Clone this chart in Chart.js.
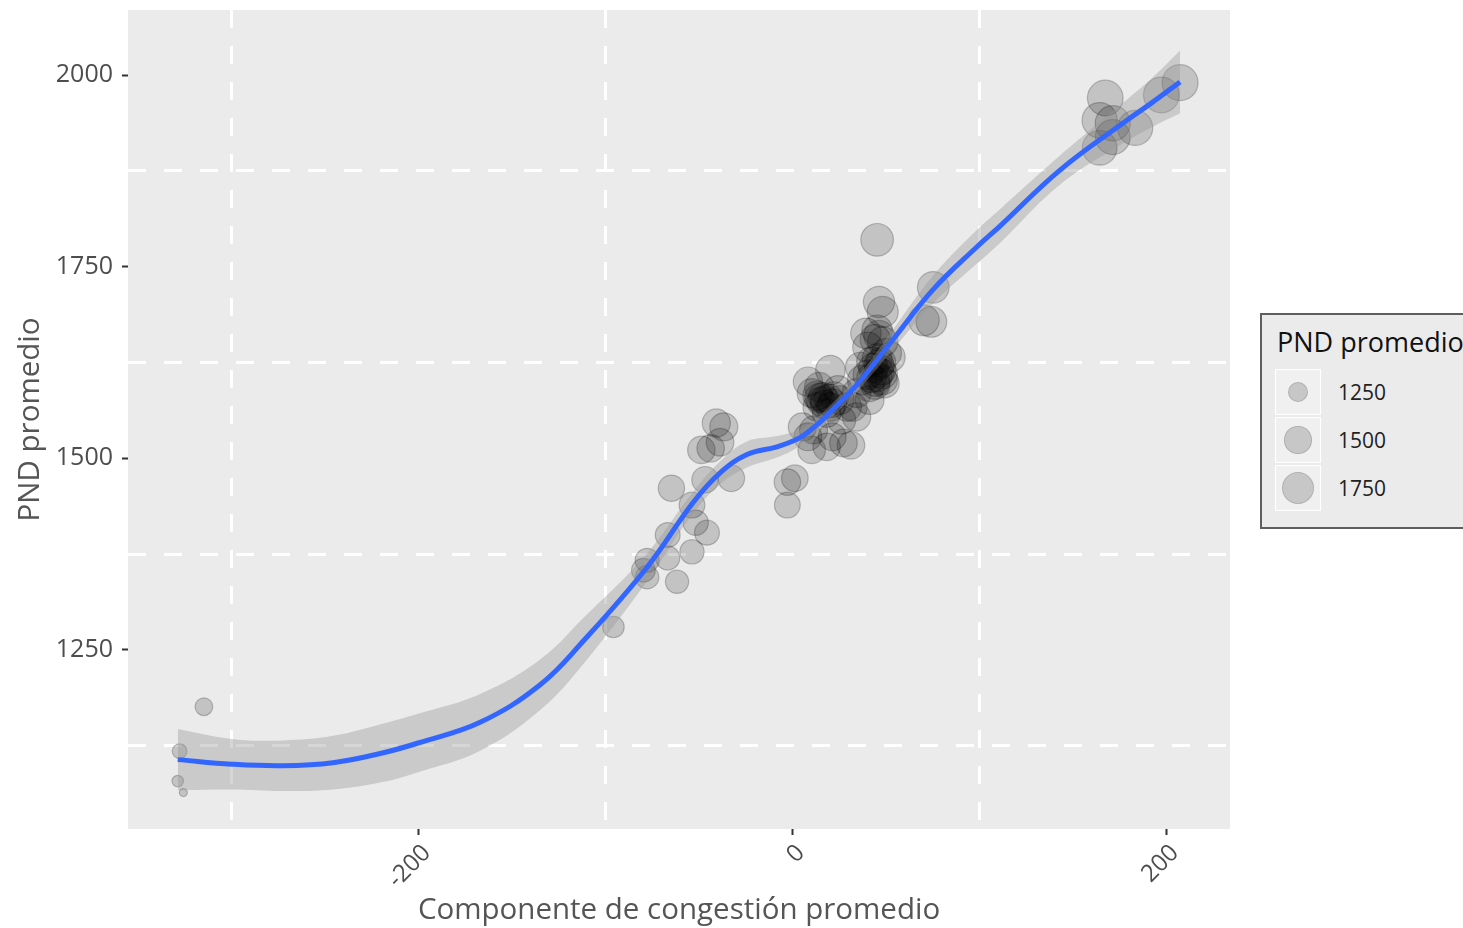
<!DOCTYPE html>
<html>
<head>
<meta charset="utf-8">
<title>PND promedio vs componente de congestión</title>
<script src="https://cdn.jsdelivr.net/npm/chart.js@4.4.1/dist/chart.umd.min.js"></script>
<style>
  html, body { margin: 0; padding: 0; background: #ffffff; }
  #wrap { position: relative; width: 1463px; height: 928px; overflow: hidden; }
  #plot { position: absolute; left: 0; top: 0; }
  #legend {
    position: absolute; left: 1260px; top: 313px; width: 230px; height: 212px;
    border: 2px solid #5e5e5e; background: #ebebeb;
    font-family: 'Open Sans', sans-serif;
  }
  #legend .title {
    position: absolute; left: 15px; top: 13px; font-size: 27px; line-height: 28px;
    color: #111; white-space: nowrap;
  }
  #legend .row { position: absolute; left: 13px; height: 48px; display: flex; align-items: center; }
  #legend .key {
    position: relative; width: 46px; height: 46px; background: #f0f0f0;
    border: 1px solid #ffffff; box-sizing: border-box;
  }
  #legend .dot {
    position: absolute; border-radius: 50%; box-sizing: border-box;
    background: rgba(0,0,0,0.17); border: 1px solid rgba(0,0,0,0.12);
  }
  #legend .lab { margin-left: 17px; font-size: 21px; color: #222; }
</style>
</head>
<body>
<div id="wrap">
  <canvas id="plot" width="1463" height="928"></canvas>
  <div id="legend"></div>
</div>
<script>
// Observations: congestion component (x) and mean PND (y)
const ptX = [-315, -328, -329, -326,
  -96,
  -41, -37, -49, -39, -44, -65, -47, -33, -54, -52, -46, -67, -54, -67, -78, -80, -78, -62,
  -3, 1, -3,
  46, 48, 39, 45, 48, 40, 50, 52, 36, 47, 45, 48, 41, 34, 41, 32, 34,
  42, 46, 40, 44, 37,
  43, 46, 44, 48, 42, 47, 45, 49, 44, 46,
  20, 8, 14, 10, 16, 24, 25, 13, 20, 18, 29, 26, 5, 11, 8, 21, 27, 18, 31, 10,
  17, 21, 14, 15, 19, 17, 13, 22,
  45, 75, 70, 74,
  207, 197, 167, 164, 171, 183, 171, 164];
const ptY = [1176, 1118, 1079, 1064,
  1280,
  1546, 1541, 1511, 1521, 1513, 1461, 1472, 1474, 1439, 1416, 1403, 1400, 1378, 1370, 1367, 1354, 1345, 1339,
  1469, 1474, 1439,
  1704, 1691, 1663, 1667, 1652, 1645, 1637, 1632, 1619, 1615, 1606, 1602, 1593, 1585, 1576, 1567, 1554,
  1626, 1622, 1609, 1596, 1602,
  1618, 1612, 1600, 1610, 1605, 1625, 1630, 1598, 1655, 1660,
  1615, 1600, 1593, 1585, 1580, 1589, 1576, 1567, 1567, 1559, 1567, 1550, 1541, 1537, 1528, 1528, 1520, 1515, 1517, 1511,
  1576, 1572, 1579, 1574, 1578, 1570, 1582, 1581,
  1785, 1723, 1680, 1678,
  1990, 1974, 1970, 1941, 1937, 1931, 1919, 1905];

// Smoothed trend with its confidence band
const fitX    = [-329, -300, -273, -246, -219, -200, -167, -135, -112, -78, -53.5, -39, -24.6, -8.6, 3.7, 13.4, 18.2, 34.2, 53.5, 74.9, 98.4, 110.7, 142.8, 178.6, 192, 207];
const fitY    = [1107, 1101, 1099, 1103, 1116, 1129, 1156, 1205, 1262, 1358, 1442, 1481, 1505, 1515, 1527, 1545, 1556, 1596, 1655, 1720, 1776, 1803, 1876, 1941, 1964, 1991];
const fitLow  = [1067, 1068, 1066, 1068, 1078, 1091, 1119, 1172, 1232, 1340, 1428, 1466, 1488, 1501, 1516, 1536, 1547, 1587, 1642, 1702, 1754, 1781, 1857, 1914, 1932, 1950];
const fitHigh = [1147, 1134, 1132, 1138, 1154, 1167, 1193, 1238, 1292, 1376, 1456, 1496, 1522, 1529, 1538, 1554, 1565, 1605, 1668, 1738, 1798, 1825, 1895, 1968, 1996, 2032];

// Axis ticks (labelled majors, dashed minors between them)
const xTicks = [-300, -200, -100, 0, 100, 200];
const xLabelled = [-200, 0, 200];
const yTicks = [1125, 1250, 1375, 1500, 1625, 1750, 1875, 2000];
const yLabelled = [1250, 1500, 1750, 2000];

// Size legend breaks
const sizeBreaks = [1250, 1500, 1750];

const FONT = "'Open Sans', sans-serif";
const PANEL = '#ebebeb';

// Area-style size scale: radius grows with the square root of the value
const yMin = Math.min(...ptY), yMax = Math.max(...ptY);
const R_MIN = 4, R_MAX = 18;
function radiusFor(v) {
  const t = Math.max(0, Math.min(1, (v - yMin) / (yMax - yMin)));
  return R_MIN + (R_MAX - R_MIN) * Math.sqrt(t);
}

const points = ptX.map((x, i) => ({ x: x, y: ptY[i] }));
const zip = (xs, ys) => xs.map((x, i) => ({ x: x, y: ys[i] }));

const panelBg = {
  id: 'panelBg',
  beforeDraw(chart) {
    const { ctx, chartArea: a } = chart;
    ctx.save();
    ctx.fillStyle = PANEL;
    ctx.fillRect(a.left, a.top, a.right - a.left, a.bottom - a.top);
    ctx.restore();
  }
};

const isMajor = (list, c) => !!(c.tick && list.includes(c.tick.value));

new Chart(document.getElementById('plot'), {
  type: 'scatter',
  data: {
    datasets: [
      {
        type: 'line', data: zip(fitX, fitY), borderColor: '#3366ff', borderWidth: 5,
        pointRadius: 0, tension: 0.4, fill: false, order: 0
      },
      {
        type: 'line', data: zip(fitX, fitHigh), borderWidth: 0, borderColor: 'rgba(0,0,0,0)',
        backgroundColor: 'rgba(153,153,153,0.4)', pointRadius: 0,
        tension: 0.4, fill: '+1', order: 1
      },
      {
        type: 'line', data: zip(fitX, fitLow), borderWidth: 0, borderColor: 'rgba(0,0,0,0)',
        pointRadius: 0, tension: 0.4, fill: false, order: 2
      },
      {
        data: points,
        pointRadius: c => radiusFor(c.raw ? c.raw.y : yMin),
        pointBackgroundColor: 'rgba(0,0,0,0.17)',
        pointBorderColor: 'rgba(0,0,0,0.22)',
        pointBorderWidth: 1.2,
        order: 3
      }
    ]
  },
  options: {
    responsive: false,
    animation: false,
    events: [],
    layout: { autoPadding: false, padding: { top: 10, right: 233, left: 0, bottom: 0 } },
    plugins: { legend: { display: false }, tooltip: { enabled: false } },
    scales: {
      x: {
        type: 'linear', min: -355.6, max: 233.7,
        afterBuildTicks: s => { s.ticks = xTicks.map(v => ({ value: v })); },
        afterFit: s => { s.height = 99; s.paddingLeft = 0; s.paddingRight = 0; },
        border: { display: false, dash: [18, 18], dashOffset: 0 },
        grid: {
          color: c => isMajor(xLabelled, c) ? 'rgba(0,0,0,0)' : '#ffffff',
          tickColor: c => isMajor(xLabelled, c) ? '#333333' : 'rgba(0,0,0,0)',
          lineWidth: 3, tickWidth: 2, tickLength: 6, drawTicks: true
        },
        ticks: {
          autoSkip: false, maxRotation: 45, minRotation: 45, padding: 4, labelOffset: 8,
          color: '#4d4d4d', font: { family: FONT, size: 24 },
          callback: v => xLabelled.includes(v) ? String(v) : ''
        },
        title: {
          display: true, text: 'Componente de congestión promedio',
          color: '#555555', font: { family: FONT, size: 29.5 }, padding: { top: 0, bottom: 0 }
        }
      },
      y: {
        type: 'linear', min: 1016.5, max: 2084.8,
        afterBuildTicks: s => { s.ticks = yTicks.map(v => ({ value: v })); },
        afterFit: s => { s.width = 128; s.paddingTop = 0; s.paddingBottom = 0; },
        border: { display: false, dash: [18, 18], dashOffset: 0 },
        grid: {
          color: c => isMajor(yLabelled, c) ? 'rgba(0,0,0,0)' : '#ffffff',
          tickColor: c => isMajor(yLabelled, c) ? '#333333' : 'rgba(0,0,0,0)',
          lineWidth: 3, tickWidth: 2, tickLength: 6, drawTicks: true
        },
        ticks: {
          autoSkip: false, padding: 9,
          color: '#4d4d4d', font: { family: FONT, size: 25 },
          callback: v => yLabelled.includes(v) ? String(v) : ''
        },
        title: {
          display: true, text: 'PND promedio',
          color: '#555555', font: { family: FONT, size: 29.5 }, padding: { top: 13, bottom: 0 }
        }
      }
    }
  },
  plugins: [panelBg]
});

// Size legend
(function buildLegend() {
  const box = document.getElementById('legend');
  const title = document.createElement('div');
  title.className = 'title';
  title.textContent = 'PND promedio';
  box.appendChild(title);
  sizeBreaks.forEach((b, i) => {
    const row = document.createElement('div');
    row.className = 'row';
    row.style.top = (53 + i * 48) + 'px';
    const key = document.createElement('div');
    key.className = 'key';
    const r = radiusFor(b);
    const dot = document.createElement('div');
    dot.className = 'dot';
    dot.style.width = dot.style.height = (2 * r) + 'px';
    dot.style.left = (22 - r) + 'px';
    dot.style.top = (22 - r) + 'px';
    key.appendChild(dot);
    const lab = document.createElement('span');
    lab.className = 'lab';
    lab.textContent = String(b);
    row.appendChild(key);
    row.appendChild(lab);
    box.appendChild(row);
  });
})();
</script>
</body>
</html>
